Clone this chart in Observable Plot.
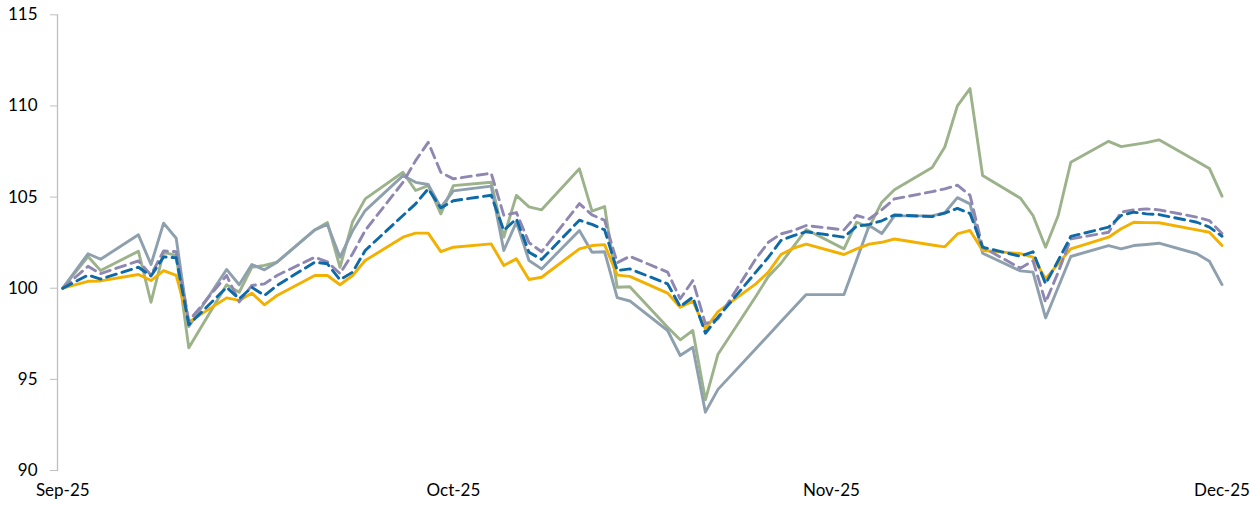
<!DOCTYPE html>
<html>
<head>
<meta charset="utf-8">
<script src="https://cdn.jsdelivr.net/npm/d3@7"></script>
<script src="https://cdn.jsdelivr.net/npm/@observablehq/plot@0.6"></script>
<style>
  html, body { margin: 0; padding: 0; background: #fff; }
  #chart { width: 1250px; height: 507px; }
</style>
</head>
<body>
<div id="chart"></div>
<script>
// Day index of each observation (calendar days from the first observation)
const days = [0,2,3,6,7,8,9,10,13,14,15,16,17,20,21,22,23,24,27,28,29,30,31,34,35,36,37,38,41,42,43,44,45,48,49,50,51,52,55,56,57,58,59,62,63,64,65,66,69,70,71,72,73,76,77,78,79,80,83,84,85,86,87,90,91,92];

const orangeSeries = [100,100.38,100.4,100.75,100.42,100.97,100.7,98.14,99.47,99.33,99.73,99.09,99.6,100.7,100.7,100.19,100.7,101.52,102.8,103.02,103.02,102.01,102.25,102.43,101.25,101.61,100.48,100.6,102.16,102.34,102.39,100.72,100.65,99.73,98.96,99.29,97.77,98.72,100.24,100.88,101.85,102.2,102.42,101.85,102.16,102.42,102.52,102.7,102.37,102.27,102.98,103.17,102.07,101.9,101.7,100.51,101.34,102.16,102.8,103.26,103.62,103.6,103.59,103.2,103.07,102.34];

const blueSeries = [100,100.72,100.5,101.15,100.67,101.72,101.67,98.0,100.05,99.42,100.05,99.6,100.15,101.43,101.34,100.46,100.88,102.07,103.99,104.63,105.45,104.4,104.8,105.1,103.17,103.81,101.97,101.58,103.73,103.5,103.2,100.97,101.06,100.24,98.99,99.51,97.53,98.41,100.88,101.7,102.62,102.89,103.1,102.8,103.4,103.5,103.7,104.02,103.93,104.12,104.38,104.1,102.25,101.75,102.0,100.24,101.52,102.84,103.35,103.99,104.17,104.08,104.04,103.62,103.35,102.85];

const purpleSeries = [100,101.2,100.8,101.5,100.72,102.05,102.0,98.2,100.7,99.25,100.15,100.24,100.7,101.7,101.45,100.8,101.89,103.17,105.81,107.0,108.0,106.36,106.0,106.31,104.0,104.15,102.5,102.0,104.64,104.02,103.73,101.4,101.75,100.88,99.42,100.42,98.05,98.32,101.61,102.52,102.98,103.17,103.44,103.2,103.99,103.8,104.3,104.9,105.3,105.45,105.65,105.1,102.25,101.1,101.5,99.23,100.88,102.7,103.07,104.17,104.3,104.35,104.3,103.9,103.71,103.0];

const greenSeries = [100,101.74,100.97,102.03,99.23,101.97,101.8,96.73,100.19,99.78,101.15,101.25,101.43,103.2,103.6,101.15,103.65,104.9,106.36,105.36,105.63,104.08,105.63,105.81,102.8,105.09,104.46,104.3,106.55,104.23,104.48,100.05,100.08,97.86,97.17,97.68,93.88,96.38,99.55,100.65,101.37,102.29,103.22,102.16,103.62,103.35,104.72,105.4,106.62,107.75,110.0,110.95,106.18,104.94,103.99,102.25,103.99,106.91,108.06,107.77,107.88,107.99,108.14,106.97,106.57,105.05];

const graySeries = [100,101.89,101.59,102.93,101.3,103.57,102.74,97.9,101.03,100.19,101.3,101.01,101.43,103.2,103.5,101.7,103.15,104.26,106.18,105.81,105.69,104.43,105.34,105.6,102.07,103.63,101.52,101.06,103.17,101.97,102.0,99.48,99.3,97.68,96.31,96.76,93.2,94.45,96.68,97.42,98.17,98.91,99.65,99.65,101.55,103.44,103.0,103.97,103.97,104.14,104.97,104.63,101.92,100.95,100.88,98.37,100.05,101.74,102.34,102.16,102.34,102.4,102.47,101.89,101.48,100.2];

const yTicks = [90, 95, 100, 105, 110, 115];
const xTickDays = [0, 31, 61, 92];
const xTickLabels = ["Sep-25", "Oct-25", "Nov-25", "Dec-25"];

const seriesList = [
  {name: "Green", values: greenSeries, color: "#9cb28b", dash: null},
  {name: "Gray", values: graySeries, color: "#8ea0ae", dash: null},
  {name: "Orange", values: orangeSeries, color: "#f2b000", dash: null},
  {name: "Purple", values: purpleSeries, color: "#8f87b1", dash: "10,6"},
  {name: "Blue", values: blueSeries, color: "#0e6aa6", dash: "10,6"}
];

const tableFor = (s) => days.map((d, i) => ({day: d, value: s.values[i], series: s.name}))
  .filter(r => r.value != null);

const lineMarks = seriesList.map(s => Plot.line(tableFor(s), {
  x: "day", y: "value",
  stroke: s.color,
  strokeWidth: 2.9,
  strokeDasharray: s.dash || undefined,
  strokeLinejoin: "round"
}));

const chart = Plot.plot({
  width: 1250,
  height: 507,
  marginLeft: 57,
  marginRight: 28.5,
  marginTop: 14.3,
  marginBottom: 37,
  style: {fontFamily: "Lato, 'Noto Sans', sans-serif", fontSize: "17px", color: "#000", background: "#fff"},
  x: {type: "linear", domain: [0, 92], insetLeft: 5.3, label: null},
  y: {domain: [90, 115], label: null},
  marks: [
    Plot.frame({anchor: "left", stroke: "#bfbfbf", strokeWidth: 1.3}),
    Plot.axisY({ticks: yTicks, tickSize: 7, tickPadding: 13, stroke: "#bfbfbf", fill: "#000", label: null, tickFormat: d => String(d)}),
    Plot.axisX({ticks: xTickDays, tickSize: 0, tickPadding: 13, fill: "#000", label: null,
      tickFormat: d => xTickLabels[xTickDays.indexOf(d)]}),
    ...lineMarks
  ]
});
document.getElementById("chart").appendChild(chart);
</script>
</body>
</html>
